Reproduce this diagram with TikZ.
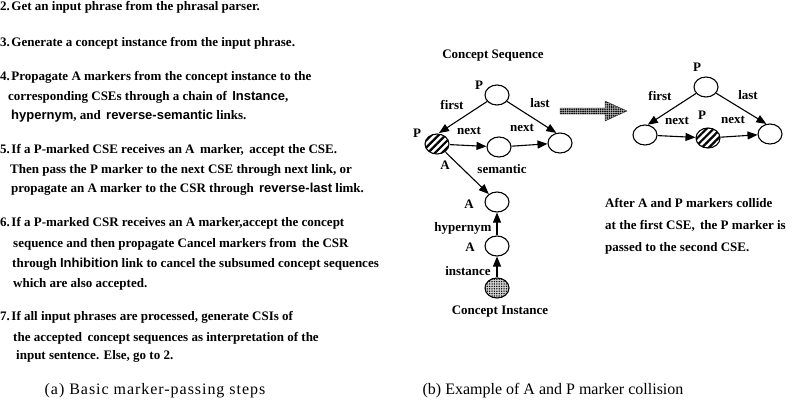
\documentclass[tikz,border=0pt]{standalone}
\usepackage{fontspec}
\setmainfont{Liberation Serif}
\setsansfont{Liberation Sans}
\usetikzlibrary{arrows.meta,shapes.geometric,patterns,patterns.meta}
\tikzset{
  cnode/.style={draw,ellipse,line width=1.1pt,minimum width=24pt,minimum height=20pt,inner sep=0pt},
  hatched/.style={cnode,pattern={Lines[angle=45,distance=5pt,line width=2.2pt]}},
  dotted node/.style={cnode,preaction={fill=gray!35},pattern={Dots[distance=2.4pt,radius=0.75pt]}},
  link/.style={line width=1.1pt,-{Triangle[length=10pt,width=8pt]}},
  lbl/.style={font=\bfseries\fontsize{13}{15}\selectfont,inner sep=0pt},
  stepline/.style={anchor=base west,inner sep=0pt,font=\bfseries\fontsize{13}{20}\selectfont},
  caption/.style={anchor=base,inner sep=0pt,font=\fontsize{16}{18}\selectfont}
}
\begin{document}
\begin{tikzpicture}[x=1pt,y=-1pt]
        \useasboundingbox (0,0) rectangle (794,404);
        % marker-passing steps
        \node[stepline] (l1) at (0,11) {2.\hspace{1.5pt}Get an input phrase from the phrasal parser.};
        \node[stepline] (l2) at (0,46) {3.\hspace{1.5pt}Generate a concept instance from the input phrase.};
        \node[stepline] (l3) at (0,80) {4.\hspace{1.5pt}Propagate A markers from the concept instance to the};
        \node[stepline] (l4) at (8,100) {corresponding CSEs through a chain of \,\textsf{Instance},};
        \node[stepline] (l5) at (11,119) {\textsf{hypernym}, and \,\textsf{reverse-semantic} links.};
        \node[stepline] (l6) at (0,153) {5.\hspace{1.5pt}If a P-marked CSE receives an A \,marker, \,accept the CSE.};
        \node[stepline] (l7) at (10,173) {Then pass the P marker to the next CSE through next link, or};
        \node[stepline] (l8) at (11,192) {propagate an A marker to the CSR through \,\textsf{reverse-last} limk.};
        \node[stepline] (l9) at (0,226) {6.\hspace{1.5pt}If a P-marked CSR receives an A marker,accept the concept};
        \node[stepline] (l10) at (13,247) {sequence and then propagate Cancel markers from \,the CSR};
        \node[stepline] (l11) at (12,267) {through \textsf{Inhibition} link to cancel the subsumed concept sequences};
        \node[stepline] (l12) at (13,287) {which are also accepted.};
        \node[stepline] (l13) at (0,320) {7.\hspace{1.5pt}If all input phrases are processed, generate CSIs of};
        \node[stepline] (l14) at (13,341) {the accepted \,concept sequences as interpretation of the};
        \node[stepline] (l15) at (16,359) {input sentence. Else, go to 2.};
        \node[caption] (capa) at (155,394) {\addfontfeature{LetterSpace=6}(a) Basic marker-passing steps};
        \node[caption] (capb) at (553,394) {(b) Example of A and P marker collision};
        % concept sequence before collision
        \node[lbl] (cstitle) at (493,56) {Concept Sequence};
        \node[cnode] (ctop) at (497,95) {};
        \node[hatched] (cse1) at (437,144) {};
        \node[cnode] (cse2) at (499,147) {};
        \node[cnode] (cse3) at (560,143) {};
        \node[cnode] (ca1) at (497,202) {};
        \node[cnode] (ca2) at (497,246) {};
        \node[dotted node] (cinst) at (497,288) {};
        \node[lbl] (citle) at (500,312) {Concept Instance};
        \draw[link] (ctop) -- (cse1.80);
        \draw[link] (ctop) -- (cse3.110);
        \draw[link] (cse1) -- (cse2);
        \draw[link] (cse2) -- (cse3);
        \draw[link] (cse1) -- (ca1);
        \draw[link] (ca2) -- (ca1);
        \draw[link] (cinst) -- (ca2);
        \node[lbl] (ptop) at (479,85) {P};
        \node[lbl] (lfirst) at (452,105) {first};
        \node[lbl] (llast) at (540,103) {last};
        \node[lbl] (pcse) at (417,133) {P};
        \node[lbl] (acse) at (445,165) {A};
        \node[lbl] (lnexta) at (469,131) {next};
        \node[lbl] (lnextb) at (522,128) {next};
        \node[lbl] (lsem) at (502,169) {semantic};
        \node[lbl] (aone) at (469,204) {A};
        \node[lbl,fill=white] (lhyp) at (463,228) {hypernym};
        \node[lbl] (atwo) at (470,247) {A};
        \node[lbl,fill=white] (linst) at (468,271) {instance};
        % big arrow
        \filldraw[draw=gray!40!black,preaction={fill=gray!60},pattern={Dots[distance=2.2pt,radius=0.9pt]}]
          (560,108) -- (605,108) -- (605,101) -- (627,111) -- (605,121) -- (605,114) -- (560,114) -- cycle;
        % concept sequence after collision
        \node[cnode] (rtop) at (706,87) {};
        \node[cnode] (rleft) at (645,135) {};
        \node[hatched] (rmid) at (708,138) {};
        \node[cnode] (rright) at (770,134) {};
        \draw[link] (rtop) -- (rleft.75);
        \draw[link] (rtop) -- (rright.110);
        \draw[link] (rleft) -- (rmid);
        \draw[link] (rmid) -- (rright);
        \node[lbl] (rptop) at (697,67) {P};
        \node[lbl] (rfirst) at (660,96) {first};
        \node[lbl] (rlast) at (748,95) {last};
        \node[lbl] (rnexta) at (677,121) {next};
        \node[lbl] (rpmid) at (702,115) {P};
        \node[lbl] (rnextb) at (733,120) {next};
        % note
        \node[stepline] (n1) at (605,207) {After A and P markers collide};
        \node[stepline] (n2) at (605,229) {at the first CSE, \,the P marker is};
        \node[stepline] (n3) at (605,251) {passed to the second CSE.};
      \end{tikzpicture}
\end{document}
